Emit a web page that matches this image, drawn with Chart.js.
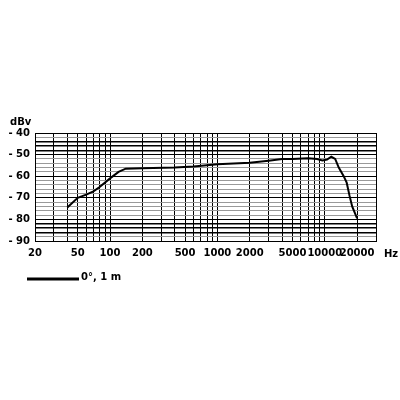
<!DOCTYPE html>
<html>
<head>
<script src="https://cdn.jsdelivr.net/npm/chart.js@4"></script>
<style>
  body { margin: 0; background: #fff; }
  #wrap { width: 400px; height: 400px; }
</style>
</head>
<body>
<div id="wrap"><canvas id="c"></canvas></div>
<script>
// response curve
const freqs = [40, 50, 60, 70, 80, 100, 120, 140, 200, 400, 600, 1000, 2000, 3000, 4000, 5000, 7000, 8500, 9500, 10500, 11500, 12500, 13500, 15000, 16000, 17000, 18000, 20000];
const levels = [-74.5, -70, -68.5, -67, -65, -61, -58, -56.5, -56.3, -56, -55.5, -54.5, -53.8, -52.8, -52, -52, -51.7, -52, -52.7, -52.3, -51, -52, -56, -60, -63, -69, -74, -79.5];

const xGrid = [20, 30, 40, 50, 60, 70, 80, 90, 100, 200, 300, 400, 500, 600, 700, 800, 900, 1000, 2000, 3000, 4000, 5000, 6000, 7000, 8000, 9000, 10000, 20000, 30000];
const xLabels = [20, 50, 100, 200, 500, 1000, 2000, 5000, 10000, 20000];
const yLabels = [-40, -50, -60, -70, -80, -90];
const boldLevels = [-44, -46, -48, -82, -84, -86];
const legendText = "0°, 1 m";

const FONT = "'DejaVu Sans', sans-serif";

// draws "dBv", "Hz" and the legend line
const extras = {
  id: "extras",
  afterDraw(chart) {
    const { ctx, chartArea } = chart;
    ctx.save();
    ctx.fillStyle = "#000";
    ctx.font = "bold 10px " + FONT;
    ctx.textBaseline = "middle";
    ctx.textAlign = "left";
    ctx.fillText("dBv", 10, chartArea.top - 11);
    ctx.fillText("Hz", chartArea.right + 8, chartArea.bottom + 13);
    ctx.strokeStyle = "#000";
    ctx.lineWidth = 3;
    ctx.beginPath();
    ctx.moveTo(27, 279);
    ctx.lineTo(79, 279);
    ctx.stroke();
    ctx.fillText(legendText, 81, 277);
    ctx.restore();
  },
};

new Chart(document.getElementById("c"), {
  type: "scatter",
  data: {
    datasets: [{
      data: freqs.map((f, i) => ({ x: f, y: levels[i] })),
      showLine: true,
      borderColor: "#000",
      borderWidth: 2,
      pointRadius: 0,
      tension: 0,
    }],
  },
  options: {
    responsive: true,
    maintainAspectRatio: false,
    animation: false,
    layout: { padding: { left: 0, right: 24, top: 133, bottom: 133 } },
    plugins: { legend: { display: false }, tooltip: { enabled: false } },
    scales: {
      x: {
        type: "logarithmic",
        min: 20,
        max: 30000,
        afterBuildTicks: (axis) => { axis.ticks = xGrid.map((v) => ({ value: v })); },
        afterFit: (axis) => { axis.height = 26; },
        grid: { color: "#000", lineWidth: 1, drawTicks: false },
        border: { color: "#000" },
        ticks: {
          autoSkip: false,
          maxRotation: 0,
          padding: 6,
          color: "#000",
          font: { family: FONT, size: 10, weight: "bold" },
          callback: (v) => (xLabels.includes(v) ? String(v) : ""),
        },
      },
      y: {
        min: -90,
        max: -40,
        afterBuildTicks: (axis) => {
          const t = [];
          for (let v = -90; v <= -40; v += 2) t.push({ value: v });
          axis.ticks = t;
        },
        afterFit: (axis) => { axis.width = 35; },
        grid: {
          drawTicks: false,
          lineWidth: (c) => (boldLevels.includes(c.tick.value) ? 1.5 : 1),
          color: (c) => (boldLevels.includes(c.tick.value) || c.tick.value % 10 === 0 ? "#000" : "#999"),
        },
        border: { color: "#000" },
        ticks: {
          autoSkip: false,
          padding: 5,
          color: "#000",
          font: { family: FONT, size: 10, weight: "bold" },
          callback: (v) => (yLabels.includes(v) ? "- " + Math.abs(v) : ""),
        },
      },
    },
  },
  plugins: [extras],
});
</script>
</body>
</html>
